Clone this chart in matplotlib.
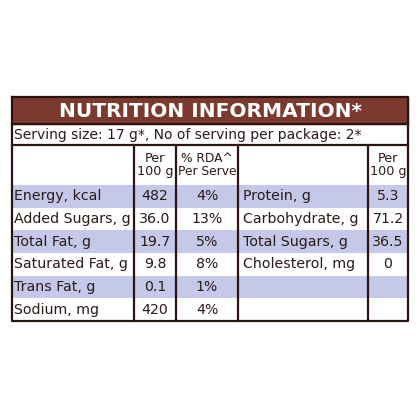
import matplotlib.pyplot as plt
from matplotlib.patches import Rectangle

left_labels = ["Energy, kcal", "Added Sugars, g", "Total Fat, g", "Saturated Fat, g", "Trans Fat, g", "Sodium, mg"]
left_per100 = ["482", "36.0", "19.7", "9.8", "0.1", "420"]
left_rda = ["4%", "13%", "5%", "8%", "1%", "4%"]
right_labels = ["Protein, g", "Carbohydrate, g", "Total Sugars, g", "Cholesterol, mg", "", ""]
right_per100 = ["5.3", "71.2", "36.5", "0", "", ""]

title = "NUTRITION INFORMATION*"
serving = "Serving size: 17 g*, No of serving per package: 2*"

BROWN = "#7b3a2d"
LAV = "#c6c8ea"
INK = "#2b1a18"
LINE = "#2a1410"

# layout in pixel units
x0, x1 = 12, 408
cols = [12, 134, 176, 238, 368, 408]
y_title, y_serv, y_head, y_rows = 97, 124, 145, 185
row_h = (321 - 185) / 6
fs = 10.2

fig = plt.figure(figsize=(4.2, 4.2), dpi=100)
ax = fig.add_axes([0, 0, 1, 1])
ax.set_xlim(0, 420)
ax.set_ylim(420, 0)
ax.axis("off")

ax.add_patch(Rectangle((x0, y_title), x1 - x0, y_serv - y_title, color=BROWN))
ax.text((x0 + x1) / 2, (y_title + y_serv) / 2 + 1, title, color="white",
        fontsize=14.5, fontweight="bold", ha="center", va="center")
ax.text(x0 + 2, (y_serv + y_head) / 2, serving, color=INK, fontsize=10.0,
        ha="left", va="center")

for i in range(len(left_labels)):
    ytop = y_rows + i * row_h
    yc = ytop + row_h / 2
    if i % 2 == 0:
        ax.add_patch(Rectangle((x0, ytop), x1 - x0, row_h, color=LAV, lw=0))
    ax.text(cols[0] + 2, yc, left_labels[i], color=INK, fontsize=fs, ha="left", va="center")
    ax.text((cols[1] + cols[2]) / 2, yc, left_per100[i], color=INK, fontsize=fs, ha="center", va="center")
    ax.text((cols[2] + cols[3]) / 2, yc, left_rda[i], color=INK, fontsize=fs, ha="center", va="center")
    ax.text(cols[3] + 5, yc, right_labels[i], color=INK, fontsize=fs, ha="left", va="center")
    ax.text((cols[4] + cols[5]) / 2, yc, right_per100[i], color=INK, fontsize=fs, ha="center", va="center")

hc = (y_head + y_rows) / 2
for xa, xb, txt, f in [(cols[1], cols[2], "Per\n100 g", 9.2), (cols[2], cols[3], "% RDA^\nPer Serve", 8.8),
                       (cols[4], cols[5], "Per\n100 g", 9.2)]:
    ax.text((xa + xb) / 2, hc, txt, color=INK, fontsize=f, ha="center", va="center",
            linespacing=1.05)

# grid lines
lw = 1.6
ax.plot([x0, x1, x1, x0, x0], [y_title, y_title, 321, 321, y_title], color=LINE, lw=lw)
ax.plot([x0, x1], [y_serv, y_serv], color=LINE, lw=lw)
ax.plot([x0, x1], [y_head, y_head], color=LINE, lw=lw)
for c in cols[1:-1]:
    ax.plot([c, c], [y_head, 321], color=LINE, lw=lw)

fig.savefig("out.png", dpi=100, facecolor="white")
